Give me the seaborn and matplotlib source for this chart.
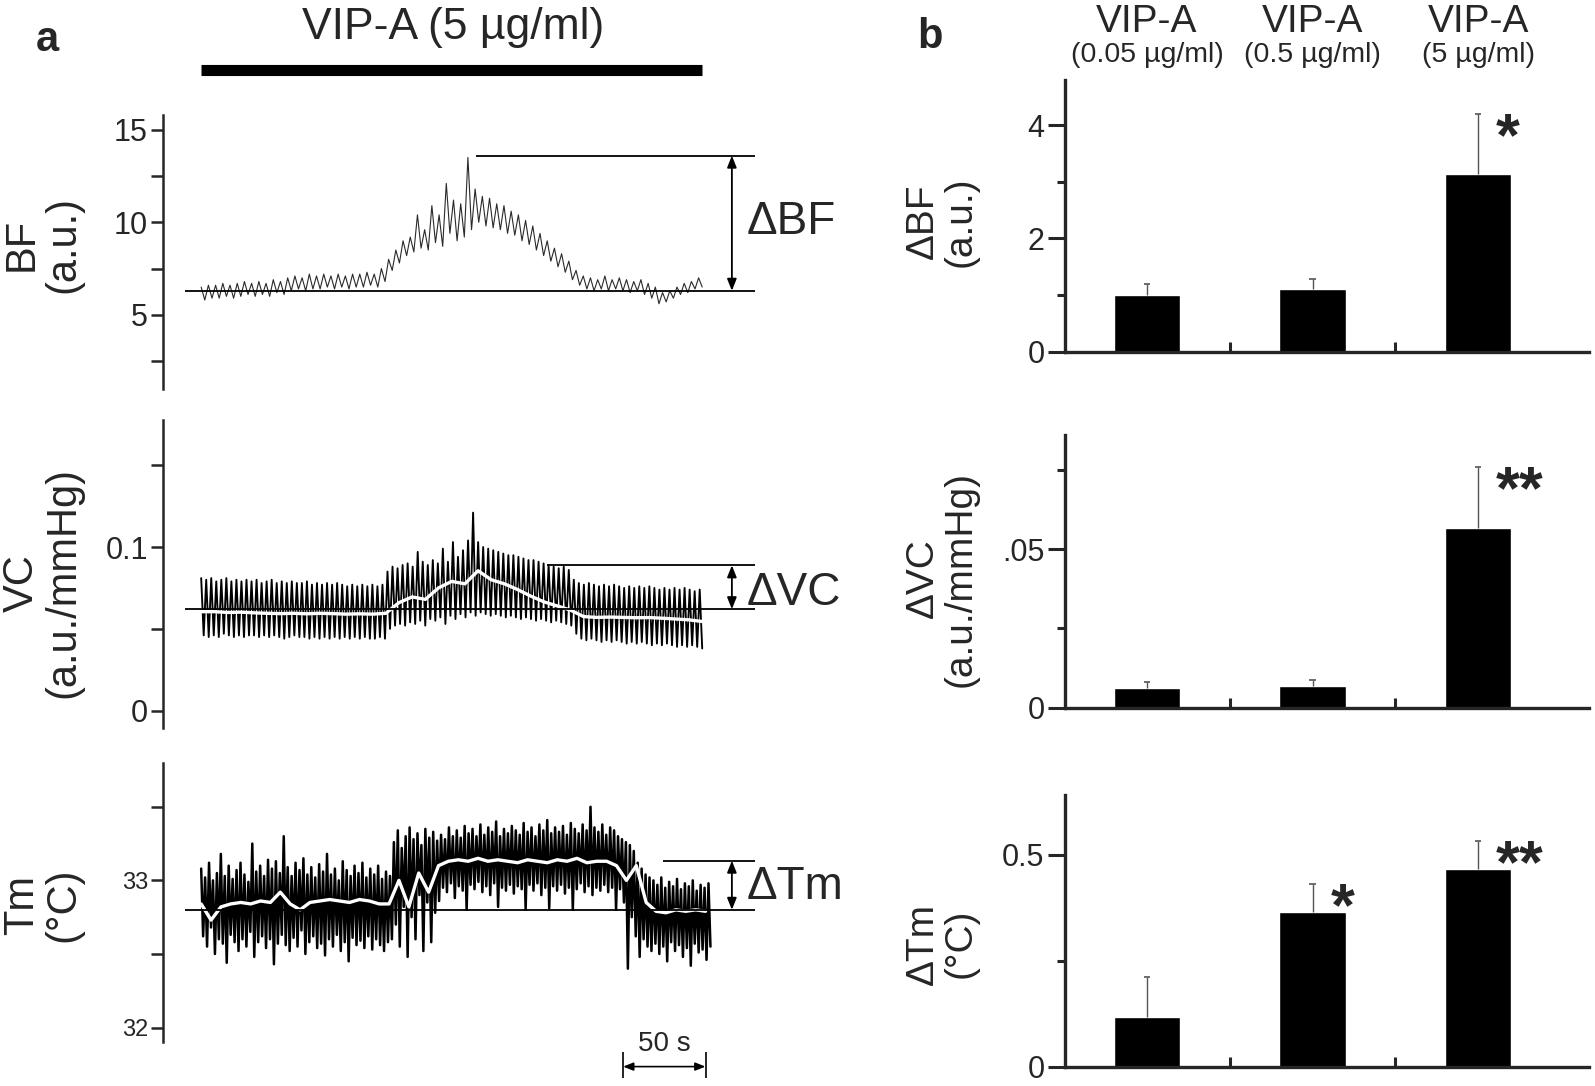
import matplotlib
matplotlib.use("Agg")
import matplotlib.pyplot as plt
import matplotlib.transforms as mtransforms
from matplotlib.ticker import FixedLocator
import numpy as np
import pandas as pd
import seaborn as sns

sns.set_theme(style="ticks")
plt.rcParams["font.family"] = ["Liberation Sans", "DejaVu Sans"]

# ---------------- panel a: recorded traces, one peak + one trough per cycle ----------------
# blood flow (a.u.)
bf_hi = [6.5, 6.6, 6.6, 6.7, 6.6, 6.7, 6.8, 6.7, 6.8, 6.7,
         6.9, 6.8, 7.0, 7.1, 7.0, 7.2, 7.1, 7.2, 7.1, 7.2,
         7.1, 7.2, 7.2, 7.3, 7.2, 7.5, 8.0, 8.5, 9.0, 9.2,
         10.4, 9.6, 10.9, 10.4, 12.1, 11.2, 11.0, 13.5, 11.8, 11.4,
         11.3, 11.0, 10.9, 10.6, 10.4, 10.1, 9.8, 9.4, 9.0, 8.6,
         8.3, 7.9, 7.4, 7.1, 7.0, 6.9, 7.1, 6.9, 7.0, 6.9,
         6.8, 6.9, 6.7, 6.5, 6.2, 6.3, 6.5, 6.7, 6.8, 7.0]
bf_lo = [5.8, 5.9, 5.9, 6.0, 5.9, 6.0, 6.1, 6.0, 6.1, 6.0,
         6.2, 6.1, 6.3, 6.4, 6.3, 6.4, 6.4, 6.5, 6.4, 6.5,
         6.4, 6.5, 6.5, 6.6, 6.5, 6.8, 7.4, 7.8, 8.2, 8.4,
         8.6, 8.5, 8.9, 8.7, 9.4, 9.0, 9.2, 9.6, 10.0, 9.8,
         9.7, 9.6, 9.4, 9.3, 9.0, 8.8, 8.5, 8.2, 7.9, 7.6,
         7.3, 6.9, 6.6, 6.4, 6.3, 6.4, 6.3, 6.4, 6.3, 6.2,
         6.3, 6.1, 5.9, 5.6, 5.7, 5.9, 6.1, 6.2, 6.4, 6.5]
bf_base, bf_peak = 6.3, 13.6

# vascular conductance (0.001 a.u./mmHg)
vc_hi = [81, 80, 81, 79, 80, 81, 79, 80, 79, 80,
         79, 80, 78, 79, 80, 78, 79, 78, 79, 78,
         78, 79, 77, 78, 77, 78, 77, 78, 77, 76,
         77, 76, 77, 76, 77, 76, 77, 85, 88, 87,
         89, 90, 88, 97, 91, 89, 92, 90, 99, 91,
         103, 94, 98, 104, 121, 103, 100, 99, 98, 97,
         96, 95, 95, 94, 93, 92, 92, 91, 90, 89,
         88, 87, 88, 86, 80, 78, 77, 78, 77, 76,
         77, 76, 77, 76, 75, 76, 75, 76, 75, 76,
         75, 74, 75, 74, 75, 74, 75, 74, 73, 74]
vc_lo = [46, 45, 46, 45, 47, 46, 45, 46, 45, 46,
         46, 45, 46, 45, 46, 45, 44, 45, 46, 45,
         45, 44, 45, 44, 45, 44, 45, 44, 45, 44,
         45, 44, 45, 44, 44, 45, 44, 50, 52, 53,
         52, 54, 53, 55, 52, 56, 55, 57, 53, 58,
         56, 59, 57, 60, 58, 60, 59, 58, 59, 58,
         57, 58, 57, 56, 57, 56, 55, 56, 55, 54,
         55, 54, 53, 52, 47, 44, 43, 44, 43, 42,
         43, 42, 43, 42, 41, 42, 41, 42, 41, 40,
         41, 40, 41, 40, 39, 40, 39, 40, 39, 38]
vc_mean = [60.5, 60.5, 60.0, 60.2, 59.8, 59.5, 59.3, 59.5, 59.2, 59.5,
           59.3, 59.0, 59.2, 59.0, 59.5, 66.0, 69.5, 68.0, 75.0, 79.0,
           77.5, 85.5, 80.0, 77.5, 74.0, 70.0, 66.5, 64.0, 61.5, 57.5,
           57.0, 57.2, 57.0, 56.8, 56.9, 56.5, 56.0, 55.5, 54.5]
vc_base, vc_peak = 0.062, 0.0888

# muscle temperature (0.01 degC above 32 degC)
tm_hi = [108, 102, 112, 100, 105, 118, 103, 110, 101, 107,
         112, 104, 99, 125, 106, 110, 103, 114, 108, 113,
         105, 130, 109, 103, 112, 107, 115, 104, 109, 102,
         111, 106, 118, 104, 108, 100, 113, 107, 103, 110,
         105, 112, 102, 108, 104, 110, 101, 106, 103, 126,
         134, 122, 130, 136, 128, 132, 124, 135, 129, 133,
         127, 131, 128, 136, 130, 134, 129, 137, 132, 135,
         130, 138, 131, 136, 133, 140, 130, 135, 132, 137,
         134, 131, 139, 133, 136, 130, 138, 134, 141, 132,
         136, 133, 137, 131, 139, 135, 132, 138, 134, 150,
         136, 133, 138, 131, 136, 134, 130, 128, 126, 124,
         120, 112, 108, 104, 102, 100, 97, 102, 95, 99,
         96, 101, 94, 98, 96, 100, 93, 97, 95, 98]
tm_lo = [62, 55, 68, 50, 60, 57, 44, 63, 58, 52,
         60, 55, 65, 48, 58, 62, 54, 60, 43, 57,
         63, 56, 52, 61, 55, 66, 50, 58, 62, 54,
         57, 49, 60, 55, 63, 52, 58, 45, 61, 56,
         59, 54, 62, 53, 60, 56, 52, 58, 60, 70,
         55, 82, 48, 75, 60, 90, 52, 85, 58, 78,
         86, 95, 92, 98, 88, 96, 93, 80, 97, 94,
         99, 92, 96, 90, 98, 82, 95, 93, 97, 91,
         96, 94, 80, 97, 93, 98, 90, 95, 81, 96,
         93, 97, 91, 95, 80, 94, 98, 92, 96, 90,
         95, 93, 97, 92, 95, 80, 94, 85, 40, 75,
         62, 48, 60, 55, 52, 57, 50, 55, 45, 58,
         52, 56, 48, 54, 42, 57, 51, 53, 46, 55]
tm_mean = [32.84, 32.73, 32.82, 32.84, 32.85, 32.84, 32.86, 32.85, 32.92, 32.84,
           32.80, 32.85, 32.86, 32.87, 32.86, 32.85, 32.87, 32.86, 32.84, 32.84,
           33.00, 32.82, 33.05, 32.92, 33.10, 33.13, 33.14, 33.13, 33.15, 33.13,
           33.14, 33.13, 33.12, 33.14, 33.13, 33.12, 33.14, 33.13, 33.15, 33.12,
           33.13, 33.13, 33.10, 33.00, 33.10, 32.85, 32.79, 32.78, 32.80, 32.79,
           32.80, 32.79]
tm_base, tm_peak = 32.80, 33.134

bf_dur, vc_dur, tm_dur = 304, 304, 309   # s
infusion = (0, 304)                       # s, VIP-A 5 ug/ml
scale_s = (256, 306)                      # 50 s bar

# ---------------- panel b: mean + SE ----------------
dose_labels = ["(0.05 µg/ml)", "(0.5 µg/ml)", "(5 µg/ml)"]
d_bf = [1.0, 1.1, 3.14]
d_bf_se = [0.19, 0.19, 1.05]
d_vc = [0.0062, 0.0068, 0.0565]
d_vc_se = [0.0018, 0.0018, 0.0192]
d_tm = [0.118, 0.365, 0.467]
d_tm_se = [0.093, 0.066, 0.064]
sig_bf = ["", "", "*"]
sig_vc = ["", "", "**"]
sig_tm = ["", "*", "**"]


def box(x0, y0, x1, y1):
    # reference pixel box -> figure fraction
    return [x0 / 1568, 1 - y1 / 1068, (x1 - x0) / 1568, (y1 - y0) / 1068]


def zigzag(hi, lo, dur, scale=1.0, offset=0.0):
    v = np.column_stack([hi, lo]).ravel() * scale + offset
    return pd.DataFrame({"t": np.linspace(0, dur, len(v)), "v": v})


fig = plt.figure(figsize=(15.95, 10.86), dpi=100)

ax_bf = fig.add_axes(box(160.5, 113, 760, 383))
ax_vc = fig.add_axes(box(160.5, 413, 760, 716))
ax_tm = fig.add_axes(box(160.5, 750, 760, 1025))

sns.lineplot(data=zigzag(bf_hi, bf_lo, bf_dur), x="t", y="v", sort=False,
             estimator=None, color="#2a2a2a", lw=0.8, ax=ax_bf)
sns.lineplot(data=zigzag(vc_hi, vc_lo, vc_dur, 0.001), x="t", y="v", sort=False,
             estimator=None, color="black", lw=1.35, ax=ax_vc)
sns.lineplot(x=np.linspace(0, vc_dur, len(vc_mean)), y=np.array(vc_mean) * 0.001,
             sort=False, estimator=None, color="white", lw=2.4, ax=ax_vc)
sns.lineplot(data=zigzag(tm_hi, tm_lo, tm_dur, 0.01, 32), x="t", y="v", sort=False,
             estimator=None, color="black", lw=1.8, ax=ax_tm)
sns.lineplot(x=np.linspace(0, 306, len(tm_mean)), y=tm_mean,
             sort=False, estimator=None, color="white", lw=2.4, ax=ax_tm)

arrow_kw = dict(arrowstyle="<|-|>,head_length=0.5,head_width=0.2", color="black",
                lw=1.3, mutation_scale=14, shrinkA=0, shrinkB=0)
traces = [
    (ax_bf, bf_base, bf_peak, 167, "ΔBF", 10.0, (0.97, 15.8),
     [5, 10, 15], ["5", "10", "15"], [2.5, 7.5, 12.5], 22),
    (ax_vc, vc_base, vc_peak, 210, "ΔVC", 0.072, (-0.0106, 0.1776),
     [0, 0.1], ["0", "0.1"], [0.05, 0.15], 22),
    (ax_tm, tm_base, tm_peak, 280, "ΔTm", 32.955, (31.9, 33.8),
     [32, 33], ["32", "33"], [32.5, 33.5], 17),
]
for ax, base, peak, t0, lab, ylab, ylim, ticks, tlabels, minor, tsize in traces:
    ax.hlines(base, -10, 336, color="black", lw=1.3, zorder=5, clip_on=False)
    ax.hlines(peak, t0, 336, color="black", lw=1.3, zorder=5, clip_on=False)
    ax.annotate("", xy=(322, peak), xytext=(322, base), arrowprops=arrow_kw,
                annotation_clip=False)
    ax.text(331, ylab, lab, fontsize=33, ha="left", va="center")
    ax.set_xlim(-23, 347)
    ax.set_ylim(*ylim)
    ax.set_yticks(ticks, tlabels)
    ax.yaxis.set_minor_locator(FixedLocator(minor))
    ax.set_xticks([])
    ax.set_xlabel("")
    ax.set_ylabel("")
    sns.despine(ax=ax, bottom=True)
    ax.spines["left"].set_linewidth(1.8)
    ax.tick_params(axis="y", which="both", direction="out", length=9, width=1.8,
                   labelsize=tsize, pad=2)

# infusion bar and title
tr = mtransforms.blended_transform_factory(ax_bf.transData, ax_bf.transAxes)
ax_bf.plot(infusion, [1.165, 1.165], transform=tr, color="black", lw=8,
           solid_capstyle="butt", clip_on=False)
ax_bf.text(np.mean(infusion) + 1, 1.276, "VIP-A (5 µg/ml)", transform=tr,
           ha="center", va="baseline", fontsize=32)

# 50 s scale bar
tr = mtransforms.blended_transform_factory(ax_tm.transData, ax_tm.transAxes)
ax_tm.annotate("", xy=(scale_s[1], -0.087), xytext=(scale_s[0], -0.087),
               xycoords=tr, textcoords=tr, annotation_clip=False,
               arrowprops=dict(arrowstyle="<|-|>,head_length=0.5,head_width=0.2",
                               color="black", lw=1.2, mutation_scale=12,
                               shrinkA=0, shrinkB=0))
ax_tm.vlines(scale_s, -0.127, -0.036, transform=tr, color="black", lw=1.2,
             clip_on=False)
ax_tm.text(np.mean(scale_s), -0.007, "50 s", transform=tr, ha="center",
           va="center", fontsize=20)

# ---------------- bar panels ----------------
bx_bf = fig.add_axes(box(1046.7, 78.6, 1562, 345.7))
bx_vc = fig.add_axes(box(1046.7, 427.6, 1562, 696))
bx_tm = fig.add_axes(box(1046.7, 782, 1562, 1049))

bars = [
    (bx_bf, d_bf, d_bf_se, sig_bf, (0, 4.8), [0, 2, 4], ["0", "2", "4"], [1, 3]),
    (bx_vc, d_vc, d_vc_se, sig_vc, (0, 0.086), [0, 0.05], ["0", ".05"], [0.025, 0.075]),
    (bx_tm, d_tm, d_tm_se, sig_tm, (0, 0.64), [0, 0.5], ["0", "0.5"], [0.25]),
]
star_size = 44
for bx, vals, se, sig, ylim, ticks, tlabels, minor in bars:
    sns.barplot(x=dose_labels, y=vals, color="black", saturation=1, width=0.4,
                errorbar=None, ax=bx)
    pos = np.arange(len(vals))
    tops = np.array(vals) + np.array(se)
    bx.vlines(pos, vals, tops, color="#555555", lw=1.0, zorder=1)
    bx.hlines(tops, pos - 0.02, pos + 0.02, color="#555555", lw=1.2, zorder=1)
    for i, s in enumerate(sig):
        if s:
            dx = 0.18 if len(s) == 1 else 0.25
            bx.annotate(s, xy=(i + dx, tops[i]), xytext=(0, -0.56 * star_size - 5),
                        textcoords="offset points", ha="center", va="baseline",
                        fontsize=star_size, fontweight="bold")
    bx.set_xlim(-0.497, 2.669)
    bx.set_ylim(*ylim)
    bx.set_yticks(ticks, tlabels)
    bx.yaxis.set_minor_locator(FixedLocator(minor))
    bx.set_xticks([0.5, 1.5], ["", ""])
    bx.set_xlabel("")
    bx.set_ylabel("")
    sns.despine(ax=bx)
    for sp in ("left", "bottom"):
        bx.spines[sp].set_linewidth(2.4)
    bx.tick_params(axis="y", which="major", direction="out", length=12.5, width=2.2,
                   labelsize=22, pad=2)
    bx.tick_params(axis="y", which="minor", direction="out", length=6, width=2.2)
    bx.tick_params(axis="x", direction="in", length=7, width=2.2)

tr = mtransforms.blended_transform_factory(bx_bf.transData, bx_bf.transAxes)
for i, lab in enumerate(dose_labels):
    bx_bf.text(i, 1.176, "VIP-A", transform=tr, ha="center", va="baseline", fontsize=28)
    bx_bf.text(i, 1.067, lab, transform=tr, ha="center", va="baseline", fontsize=20.5)

# axis titles and panel letters
for x, y, s, size in [(42, 240, "BF\n(a.u.)", 30), (42, 573, "VC\n(a.u./mmHg)", 30),
                      (42, 890, "Tm\n(°C)", 30), (926, 218, "ΔBF\n(a.u.)", 28),
                      (926, 569, "ΔVC\n(a.u./mmHg)", 28), (926, 928, "ΔTm\n(°C)", 28)]:
    fig.text(x / 1568, 1 - y / 1068, s, rotation=90, ha="center", va="center",
             multialignment="center", fontsize=size, linespacing=1.05)
fig.text(47 / 1568, 1 - 39 / 1068, "a", fontsize=30, fontweight="bold",
         ha="center", va="center")
fig.text(914 / 1568, 1 - 36 / 1068, "b", fontsize=30, fontweight="bold",
         ha="center", va="center")

fig.savefig("out.png", dpi=100)
